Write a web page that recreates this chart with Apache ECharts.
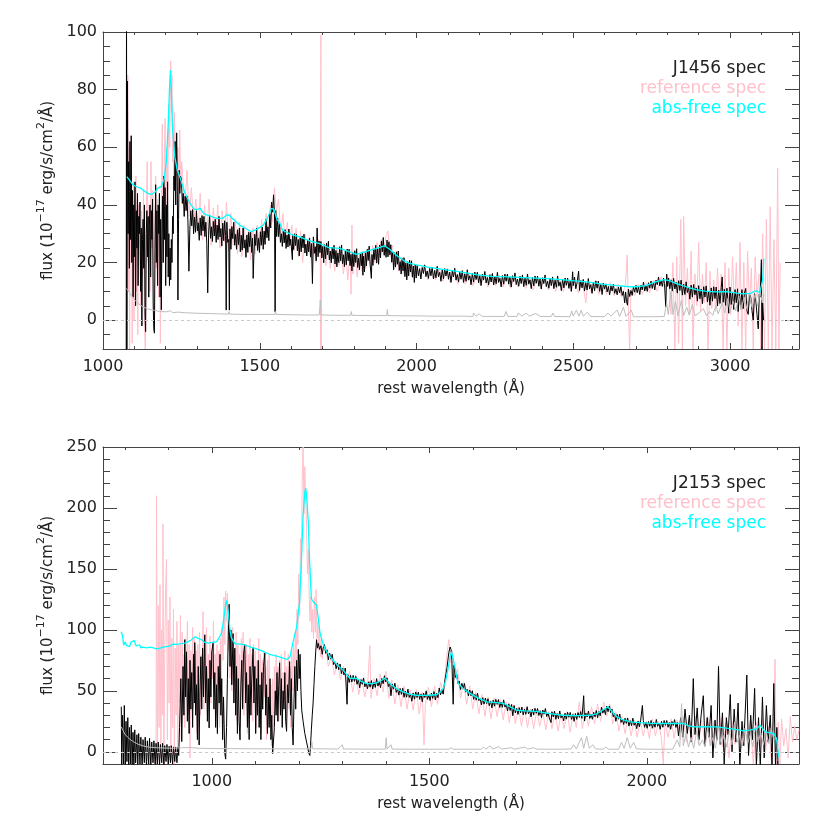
<!DOCTYPE html>
<html>
<head>
<meta charset="utf-8">
<script src="https://cdn.jsdelivr.net/npm/echarts@6/dist/echarts.min.js"></script>
<style>
  html, body { margin: 0; padding: 0; background: #fff; }
  #chart { width: 830px; height: 830px; }
</style>
</head>
<body>
<div id="chart"></div>
<script>
// ---- axis ticks ----
const topMajorX = [1000, 1500, 2000, 2500, 3000]
const topMinorX = [1100, 1200, 1300, 1400, 1600, 1700, 1800, 1900, 2100, 2200, 2300, 2400, 2600, 2700, 2800, 2900, 3100, 3200]
const topMajorY = [0, 20, 40, 60, 80, 100]
const topMinorY = [-5, 5, 10, 15, 25, 30, 35, 45, 50, 55, 65, 70, 75, 85, 90, 95]
const botMajorX = [1000, 1500, 2000]
const botMinorX = [800, 900, 1100, 1200, 1300, 1400, 1600, 1700, 1800, 1900, 2100, 2200, 2300]
const botMajorY = [0, 50, 100, 150, 200, 250]
const botMinorY = [10, 20, 30, 40, 60, 70, 80, 90, 110, 120, 130, 140, 160, 170, 180, 190, 210, 220, 230, 240]

// ---- J1456 (top) : [rest wavelength, flux] ----
const j1456Spec = [
  [1074,-15],[1075,108],[1076,-15],[1077,40],[1078,83],[1080,30],[1082,55],[1084,18],[1086,62],[1088,28],[1090,64],[1092,20],[1094,45],[1096,8],[1098,40],[1100,22],
  [1102,48],[1104,5],[1106,38],[1108,25],[1110,44],[1112,12],[1114,36],[1116,30],[1118,41],[1120,10],[1122,32],[1124,-2],[1126,28],[1128,35],[1130,18],[1132,40],
  [1134,2],[1136,-4],[1138,30],[1140,38],[1142,22],[1144,36],[1146,8],[1148,33],[1150,40],[1152,15],[1154,38],[1156,28],[1158,42],[1160,6],[1162,-3],[1164,-4.5],
  [1166,25],[1168,47],[1170,20],[1172,38],[1174,12],[1176,40],[1178,30],[1180,44],[1182,8],[1184,35],[1186,3.6],[1188,30],[1190,43],[1192,20],[1194,50],[1196,28],
  [1198,46],[1200,12],[1202,40],[1204,22],[1206,48],[1208,15],[1210,30],[1212,12],[1214,25],[1216,14],[1218,28],[1220,20],[1222,36],[1224,30],[1226,50],[1228,45],
  [1230,62],[1232,40],[1234,58],[1235,65],[1237,48],[1238,30],[1239,7],[1240,6.6],[1241,35],[1243,52],[1245,44],[1247,50],
  [1250,49],[1253,40.5],[1256,44],[1259,36],[1262,43],[1265,38],[1268,43],[1271,34],[1274,17],[1277,31.5],[1280,38],[1283,32.7],[1286,38.4],[1289,30],[1292,35.8],[1295,30.5],
  [1298,38],[1301,31],[1304,33.8],[1307,27.7],[1310,35.5],[1313,29.4],[1316,36.3],[1319,31],[1322,36],[1325,29],[1328,34],[1331,26.7],[1334,9.5],[1337,30.6],[1340,36.5],[1343,28.4],
  [1346,32.4],[1349,27.3],[1352,34.3],[1355,29.2],[1358,35],[1361,27],[1364,33],[1367,28],[1370,36],[1373,28.9],[1376,31.8],[1379,25.7],[1382,33.7],[1385,27.6],[1388,34.5],[1391,29.4],
  [1393,3.5],[1395,34],[1398,27],[1401,28],[1403,3.5],[1405,31.7],[1408,24.6],[1411,32.5],[1414,28.3],[1417,34],[1420,26],[1423,29.8],[1426,24.6],[1429,31.4],[1432,26.2],[1435,32],
  [1438,23.7],[1441,29.5],[1444,24.3],[1447,32],[1450,25],[1453,27.9],[1456,21.8],[1459,29.6],[1462,23.5],[1465,30.5],[1468,25.5],[1471,30.5],[1474,23.5],[1477,28.5],[1479,14.5],[1481,21.6],
  [1484,29.8],[1487,25.9],[1490,32],[1493,24.2],[1496,28.4],[1499,23.5],[1502,30.7],[1505,26],[1508,32.3],[1511,24.6],[1514,30.9],[1517,26.3],[1520,35],[1523,28.6],[1526,32.4],[1529,27.6],
  [1532,36.8],[1535,32],[1538,41],[1541,37.5],[1544,43.5],[1547,37],[1549,2.9],[1551,38],[1554,29],[1557,35.5],[1560,29],[1563,33.7],[1566,27],[1569,30],[1572,25.6],[1575,30.9],
  [1578,26.8],[1581,31.4],[1584,24.9],[1587,29.6],[1590,25.4],[1593,31.6],[1596,25.9],[1599,28.1],[1604,21],[1605,29.4],[1608,24.5],[1611,30],[1614,25.9],[1617,29.8],[1620,24.1],[1623,28],
  [1626,22.3],[1629,28.6],[1632,23.7],[1635,29.2],[1638,25.1],[1641,29.8],[1644,23.3],[1647,26.4],[1650,22.3],[1653,27.8],[1656,23.7],[1659,28.4],[1662,21.9],[1665,26.6],[1668,12.7],[1671,28.9],
  [1674,23.2],[1677,25.5],[1680,20.6],[1683,32],[1686,22],[1689,27.5],[1692,23.4],[1695,27.3],[1698,21.6],[1701,25.6],[1704,19.9],[1707,26.2],[1710,21.3],[1713,26.8],[1716,22.7],[1719,27.4],
  [1722,20.9],[1725,24],[1728,19.9],[1731,25.4],[1734,21.3],[1737,26],[1740,19.5],[1743,24.2],[1746,18.5],[1749,23.3],[1752,20],[1755,25.5],[1758,20.6],[1761,26.1],[1764,19.6],[1767,22.7],
  [1770,18.6],[1773,24.1],[1776,19.2],[1779,24.7],[1782,20.6],[1785,24.6],[1788,18.9],[1791,22.8],[1794,17.1],[1797,23.4],[1800,18.6],[1803,24.1],[1806,20],[1809,24.8],[1812,18.3],[1815,21.5],
  [1818,17.4],[1821,23],[1824,18.9],[1827,23.7],[1829,15.6],[1831,22.2],[1834,16.8],[1837,23.4],[1840,18.8],[1843,24.6],[1846,20.7],[1849,25.7],[1852,19.4],[1856,14.5],[1858,22.8],[1861,19],
  [1864,24.8],[1867,21],[1870,26],[1873,19.8],[1876,24.8],[1879,19.4],[1882,26.1],[1885,21.6],[1888,27.5],[1891,23.7],[1894,28.7],[1897,22.5],[1900,25.8],[1903,21.8],[1906,27.8],[1909,22],
  [1912,27.2],[1915,22.7],[1918,26.2],[1921,20.1],[1924,23.6],[1927,17.5],[1930,23.4],[1933,18.4],[1936,23.7],[1939,19.4],[1942,24],[1945,17.3],[1948,20.3],[1951,16],[1954,21.4],[1957,17.1],
  [1960,21.7],[1963,15.1],[1966,19.8],[1969,14],[1972,20.3],[1975,15.4],[1978,20.8],[1981,16.7],[1984,20.6],[1987,14.9],[1990,18.8],[1993,13.1],[1996,19.4],[1999,14.6],
  [2002,19],[2006,15.4],[2010,17.9],[2014,14.3],[2018,18.3],[2022,16.2],[2026,19.2],[2030,15.1],[2034,17.1],[2038,14.5],[2042,18],[2046,15.4],[2050,18.4],[2054,14.3],[2058,17.3],[2062,14.7],
  [2066,18.7],[2070,15.1],[2074,16.6],[2078,13.5],[2082,17.5],[2086,14.4],[2090,17.9],[2094,15.3],[2098,17.8],[2102,14.2],[2106,16.7],[2110,13.1],[2114,17.1],[2118,15],[2122,18],[2126,13.9],
  [2130,15.9],[2134,13.3],[2138,16.8],[2142,14.2],[2146,17.2],[2150,13.1],[2154,16.1],[2158,13.5],[2162,17.5],[2166,13.9],[2170,15.4],[2174,12.3],[2178,16.3],[2182,13.2],[2186,16.7],[2190,14.1],
  [2194,16.6],[2198,13],[2202,15.5],[2206,12],[2210,16],[2214,13.9],[2218,16.9],[2222,12.9],[2226,14.85],[2230,12.3],[2234,15.8],[2238,13.25],[2242,16.2],[2246,12.2],[2250,15.2],[2254,12.65],
  [2258,16.6],[2262,13.1],[2266,14.55],[2270,11.55],[2274,15.5],[2278,12.5],[2282,16],[2286,13.5],[2290,16],[2294,12.5],[2298,15],[2302,11.5],[2306,15.45],[2310,13.4],[2314,16.4],[2318,12.35],
  [2322,14.3],[2326,11.8],[2330,15.25],[2334,12.7],[2338,15.7],[2342,11.65],[2346,14.6],[2350,12.1],[2354,16],[2358,12.5],[2362,14],[2366,10.95],[2370,14.9],[2374,11.9],[2378,15.35],[2382,12.8],
  [2386,15.3],[2390,11.8],[2394,14.3],[2398,10.8],[2402,14.75],[2406,12.7],[2410,15.7],[2414,11.65],[2418,13.6],[2422,11.1],[2426,14.55],[2430,12],[2434,15],[2438,10.95],[2442,13.9],[2446,11.4],
  [2450,15.35],[2454,11.8],[2458,13.3],[2462,10.25],[2466,14.2],[2470,11.2],[2474,14.65],[2478,12.1],[2482,14.6],[2486,11.05],[2490,13.5],[2494,10],[2498,16.8],[2500,12],[2504,14.95],[2508,10.9],
  [2512,12.9],[2517,17],[2520,10.3],[2524,13.75],[2528,11.2],[2532,14.15],[2536,10.1],[2540,13.05],[2544,10.5],[2548,14.45],[2552,10.9],[2556,12.35],[2560,9.3],[2564,13.25],[2568,10.2],[2572,13.65],
  [2576,11.1],[2580,13.55],[2584,10],[2588,12.45],[2592,8.9],[2596,12.85],[2600,10.8],
  [2604,12.6],[2608,9.8],[2612,11.7],[2616,8.8],[2620,11.9],[2624,10.1],[2628,12.5],[2632,9.3],[2636,10.9],[2640,8.8],[2644,11.5],[2648,9.5],[2652,11.7],[2656,8.6],[2660,10],[2664,6],
  [2667,9.8],[2670,6.4],[2673,5.2],[2676,10.8],[2680,8.2],[2684,10.3],[2688,8.6],[2692,11.6],[2696,9.7],[2700,12.1],[2704,9.5],[2708,11.6],[2712,8.9],[2716,12.2],[2720,10.5],[2724,13.2],
  [2728,10.1],[2732,12],[2736,10],[2740,13],[2744,11.1],[2748,13.6],[2752,11],[2756,13.2],[2760,10.5],[2764,13.9],[2768,12.3],[2772,15],[2776,11.9],[2780,13.7],[2784,11.7],[2788,14.6],
  [2791,12.7],[2795,4.6],[2798,16],[2801,11.7],[2804,14.6],[2808,10.9],[2812,14],[2816,10.1],[2820,14.5],[2824,10.8],[2828,13.1],[2832,9.4],[2836,13.7],[2840,10.3],[2844,13.9],[2848,8.7],
  [2852,12.5],[2856,8.9],[2860,13.3],[2864,9.6],[2868,11.5],[2872,7.3],[2876,12.2],[2880,8],[2884,12.4],[2888,8.8],[2892,11.2],[2896,6.6],[2900,12],[2904,7.4],[2908,10.8],[2912,5.7],
  [2916,11.6],[2920,8],[2924,11.9],[2928,6.3],[2932,9.8],[2936,5.2],[2940,11.2],[2944,6.6],[2948,11.6],[2952,7.5],[2956,11.5],[2960,4.9],[2964,10.4],[2968,5.8],[2972,11.3],[2975,15],
  [2978,6.2],[2982,10.7],[2986,5.1],[2990,11.1],[2994,6],[2996,2.4],[3000,11.5],[3004,5.4],[3008,9.8],[3012,3.7],[3016,10.6],[3020,6],[3024,10.9],[3026,3],[3030,9.3],[3034,4.2],
  [3038,10.6],[3042,4],[3046,9.5],[3050,11],[3054,3.3],[3058,2],[3062,9.1],[3066,8],[3070,3.4],[3074,0],[3078,9.2],[3082,7],[3086,2],[3090,-3],[3093,9],[3096,8],
  [3100,21],[3102,-12],[3104,6],[3107,0]
]
const j1456Ref = [
  [1077,-12],[1079,85],[1081,10],[1083,60],[1085,-10],[1087,50],[1089,20],[1091,56],[1093,-8],[1095,35],[1097,48],[1099,0],[1101,42],[1103,20],[1105,50],[1107,10],
  [1109,38],[1111,-5],[1113,40],[1115,25],[1117,28],[1120,5],[1123,38],[1126,15],[1129,45],[1132,-2],[1135,-10],[1138,35],[1141,55],[1144,20],[1147,40],[1150,10],
  [1153,55],[1156,25],[1159,45],[1162,0],[1165,30],[1168,50],[1171,18],[1174,42],[1177,8],[1180,40],[1183,-8],[1186,35],[1189,68],[1192,20],[1195,52],[1198,70],
  [1201,35],[1204,60],[1207,45],[1210,75],[1213,60],[1216,90],[1218,72],[1220,85],[1222,55],[1224,68],[1226,50],[1228,72],[1230,55],[1233,65],[1236,50],[1239,60],
  [1242,45],[1245,66],[1248,46],[1251,55],[1254,50],[1261,40],[1268,52],[1275,36],[1282,46],[1289,33],[1296,42],[1303,30],[1310,44],[1317,28],[1324,40],[1331,30],
  [1338,42],[1345,26],[1352,39],[1359,28],[1366,40],[1373,25],[1380,38],[1387,27],[1394,41],[1401,24],[1408,37],[1415,26],[1422,35],[1429,23],[1436,34],[1443,22],
  [1450,33],[1457,24],[1464,31],[1471,21],[1478,32],[1485,23],[1492,33],[1499,25],[1506,35],[1513,26],[1520,37],[1527,30],[1534,40],[1541,34],[1547,46],[1553,38],
  [1560,42],[1567,30],[1574,37],[1581,27],[1588,34],[1595,25],[1602,33],[1609,24],[1616,32],[1623,22],[1630,31],[1637,20],[1644,30],[1651,23],[1658,29],[1665,21],
  [1672,28],[1679,20],[1686,28],[1693,22],[1694,-10],[1695,99],[1696,-10],[1697,22],[1704,27],[1711,19],[1718,26],[1725,18],[1732,25],[1739,17],[1746,25],[1753,19],
  [1760,24],[1767,16],[1774,23],[1781,14],[1788,24],[1791,9],[1794,33],[1797,16],[1804,22],[1811,15],[1818,23],[1825,17],[1832,24],[1839,18],[1846,25],[1853,19],
  [1860,26],[1867,20],[1874,27],[1881,22],[1888,28],[1895,23],[1902,29],[1909,31],[1916,22],[1923,26],[1930,19],[1937,24],[1944,17],[1951,22],[1958,16],[1965,21],
  [1972,15],[1979,20],[1986,15],[1993,19],[2000,18],[2012,15],[2024,19],[2036,14],[2048,18],[2060,14],[2072,18],[2084,13.5],[2096,17.5],[2108,13],[2120,17],[2132,12.5],
  [2144,16.5],[2156,12.5],[2168,16.5],[2180,12],[2192,16],[2204,12],[2216,16],[2228,11.5],[2240,16],[2252,12],[2264,15.5],[2276,11.5],[2288,15.5],[2300,11],[2312,15],[2324,11.5],
  [2336,15],[2348,11],[2360,14.5],[2372,10.5],[2384,14.5],[2396,11],[2408,14.5],[2420,10.5],[2432,14],[2444,10],[2456,14],[2468,10],[2480,14],[2492,10],[2504,14],[2516,9.5],
  [2528,14],[2540,6],[2546,13],[2558,9.5],[2570,13.5],[2582,9],[2594,13],[2606,9],[2618,13],[2630,8.5],[2642,12.5],[2654,8],[2666,12],[2672,22.6],[2676,3],[2680,-10],
  [2684,11],[2696,8.5],[2708,12.5],[2720,9],[2732,13],[2744,9.5],[2756,14],[2768,10],[2780,15],[2792,11],[2804,15],[2812,2],[2818,20],[2824,-10],[2830,22],[2836,-8],
  [2843,35],[2848,-10],[2852,36],[2858,5],[2864,18],[2870,2],[2876,24],[2882,-10],[2888,16],[2894,5],[2900,27],[2906,3],[2912,16],[2918,6],[2924,20],[2930,-10],
  [2936,17],[2942,4],[2948,14],[2954,3],[2960,18],[2966,5],[2972,16],[2978,-10],[2984,20],[2990,-10],[2996,18],[3002,2],[3008,22],[3014,4],[3020,20],[3026,-2],
  [3032,27],[3038,-10],[3044,20],[3050,-10],[3056,24],[3062,5],[3068,18],[3074,-10],[3080,22],[3086,8],[3092,16],[3098,-10],[3104,30],[3110,-10],[3116,35],[3122,-10],
  [3128,39.4],[3134,-10],[3140,28],[3146,-10],[3152,52.7],[3156,-10],[3160,20]
]
const j1456Free = [
  [1076,49.8],[1085,48.5],[1095,47],[1107,46.3],[1120,45.8],[1135,44.6],[1147,43.8],[1155,43.7],[1165,44.3],[1175,45.8],[1187,46.5],[1195,49],[1202,55],[1208,68],[1212,80],[1215,86.8],
  [1218,80],[1222,66],[1229,56.7],[1237,52],[1245,49.8],[1260,44.5],[1277,40.6],[1290,38.6],[1298,38.4],[1310,38.8],[1320,37.2],[1330,36.5],[1345,36],[1362,35.3],[1380,35.3],[1395,36.5],
  [1402,36.5],[1415,35],[1436,33],[1455,31.8],[1473,30.7],[1490,31.5],[1511,33],[1525,35.5],[1537,38.8],[1545,38.5],[1555,35],[1564,33.6],[1573,31.2],[1600,29.8],[1627,28.9],[1660,27.5],
  [1691,26.6],[1720,25.2],[1755,24.9],[1780,24],[1808,22.8],[1840,23.9],[1870,24.8],[1898,25.8],[1915,24.5],[1935,22.6],[1960,20.6],[1978,19.7],[2004,19.1],[2040,18.3],[2084,17.6],[2130,16.9],
  [2190,15.8],[2240,15.2],[2296,15],[2340,14.8],[2381,14.6],[2420,14.4],[2460,14.1],[2498,13.7],[2550,13.2],[2593,12.5],[2640,12],[2680,11.6],[2700,11.6],[2731,12],[2760,13.2],[2790,14.1],
  [2810,13.6],[2827,12.8],[2860,11.6],[2891,10.6],[2920,10.1],[2954,9.8],[2990,9.9],[3039,9.1],[3065,9.3],[3082,10.2],[3095,9.6],[3101,9.4],[3104,14],[3108,21.4]
]
const j1456Err = [
  [1075,11],[1085,9.5],[1097,7.5],[1110,6],[1128,4.6],[1145,3.8],[1165,3.4],[1180,3],[1203,2.9],[1215,3.3],[1222,2.6],[1240,2.8],[1260,2.6],[1300,2.4],[1340,2.3],[1400,2.1],
  [1402,3],[1404,2.1],[1450,2],[1500,2],[1548,2],[1550,3],[1552,2],[1600,1.9],[1650,1.8],[1690,1.8],[1693,7],[1696,1.8],[1750,1.7],[1790,1.7],[1792,3],[1794,1.7],
  [1850,1.6],[1905,1.6],[1907,3.7],[1909,1.6],[1960,1.5],[2000,1.5],[2050,1.4],[2100,1.4],[2150,1.4],[2180,1.3],[2182,2.5],[2190,1.4],[2200,2.2],[2210,1.3],[2280,1.3],[2285,3],
  [2292,1.3],[2320,1.3],[2325,2.5],[2335,1.4],[2350,2.4],[2360,1.4],[2380,2.3],[2395,1.3],[2430,1.3],[2435,2.5],[2440,1.3],[2490,1.2],[2495,3.2],[2500,1.4],[2510,3.5],[2518,1.4],
  [2525,3.4],[2532,1.4],[2545,2.8],[2555,1.3],[2600,1.2],[2610,2.5],[2620,1.4],[2640,3.5],[2648,1.3],[2660,4.5],[2668,1.3],[2685,3.5],[2692,1.2],[2700,1.2],[2760,1.2],[2790,1.3],
  [2798,6],[2803,2],[2812,10],[2818,2],[2826,6.5],[2834,1.5],[2845,7],[2852,1.6],[2862,4.5],[2870,1.7],[2880,5.5],[2888,1.6],[2900,2.4],[2915,4],[2925,1.5],[2935,3],
  [2945,1.7],[2955,5.3],[2962,2.2],[2975,6],[2983,2.5],[2993,7.5],[3000,3],[3010,6.5],[3018,3.2],[3028,8.5],[3035,3.5],[3045,8],[3052,4],[3062,9.5],[3070,4.5],[3080,9],
  [3088,5],[3096,10],[3103,6],[3108,9]
]

// ---- J2153 (bottom) : [rest wavelength, flux] ----
const j2153Spec = [
  [792,37],[793,-12],[795,30],[797,-10],[799,38],[801,-12],[803,25],[805,-8],[807,28],[809,-12],[811,20],[813,-10],[815,22],[817,-11],[819,16],[821,-12],
  [823,18],[825,-9],[828,14],[830,-12],[832,15],[835,-10],[837,12],[840,-12],[842,10],[845,-9],[847,12],[850,-12],[852,9],[855,-10],[857,11],[860,-12],
  [862,8],[865,-9],[867,9],[870,-12],[872,7],[875,-10],[877,8],[880,-11],[882,6],[885,-9],[887,7],[890,-12],[892,5],[895,-8],[897,6],[900,-10],
  [902,4.5],[905,-9],[907,5],[910,-10],[912,4],[915,-8],[917,4],[920,-9],[922,4],[924,-3],[926,20],[929,60],[931,8.4],[934,70],[936,30],[938,92],
  [940,45],[942,82],[944,25],[946,60],[948,15],[950,75],[952,35],[954,65],[956,20],[958,80],[960,40],[961,89.6],[963,30],[965,55],[967,10],[969,70],
  [971,5.6],[973,50],[975,78],[977,35],[979,85],[981,45],[984,96],[986,40],[988,70],[990,25],[992,60],[994,19.6],[996,75],[998,45],[1000,82],[1003,89],
  [1005,35],[1007,65],[1009,20],[1011,55],[1013,15],[1015,70],[1017,40],[1019,80],[1021,30],[1023,60],[1025,10],[1027,45],[1030,-1.4],[1032,-6],[1034,20],[1036,60],
  [1038,95],[1040,121],[1042,70],[1044,100],[1046,55],[1049,97],[1051,40],[1053,85],[1055,30],[1057,70],[1059,15],[1061,60],[1063,25],[1065,9.8],[1067,55],[1069,75],
  [1071,35],[1073,80],[1076,88],[1078,40],[1080,65],[1082,20],[1084,55],[1086,10],[1088,70],[1090,30],[1092,60],[1095,85],[1097,40],[1099,70],[1101,15],[1103,60],
  [1105,30],[1107,75],[1109,20],[1111,55],[1113,10],[1115,65],[1117,35],[1119,70],[1122,81],[1124,30],[1126,55],[1128,15],[1130,45],[1132,20],[1134,60],[1136,10],
  [1138,30],[1140,-1.4],[1142,-2],[1144,20],[1146,50],[1148,30],[1150,65],[1152,25],[1154,55],[1156,73],[1158,30],[1160,60],[1162,20],[1164,50],[1166,35],[1168,65],
  [1170,25],[1172,16.8],[1174,55],[1176,40],[1179,74],[1181,30],[1183,60],[1185,20],[1187,5.6],[1189,40],[1191,70],[1193,35],[1195,75],[1197,50],[1199,84],[1201,60],
  [1203,80],[1205,50],[1207,33.6],[1210,25],[1214,15],[1218,8],[1221,3],[1223,-1],[1225.5,-3],[1227,5],[1229,18],[1231,30],[1233,40],[1235,55],[1237,70],[1239,82],
  [1241,92],[1243,85],[1245,89],[1248,84],[1251,87],[1254,80],[1256,85],
  [1259,88],[1262,80.7],[1265,83.7],[1268,75.5],[1271,81],[1274,76],[1277,80],[1280,71.5],[1283,73.8],[1286,68.1],[1289,72.9],[1292,67.4],[1295,72],[1298,64.1],[1301,68.6],[1304,63],
  [1307,68.7],[1311,39],[1313,63.3],[1316,56.9],[1319,62.8],[1322,57.2],[1325,62.7],[1328,57.8],[1331,61.9],[1334,55.4],[1337,59.5],[1340,52.5],[1343,59.2],[1346,55.4],[1349,60.6],[1352,53.3],
  [1355,56.5],[1358,51.7],[1361,57.5],[1364,53],[1367,58.5],[1370,51.5],[1373,57.1],[1376,52.8],[1379,60],[1382,53.9],[1385,57.5],[1388,52.6],[1391,60.2],[1394,55.8],[1397,62.4],[1400,57.3],
  [1403,60.7],[1406,53.5],[1409,56.5],[1412,46],[1415,55.5],[1418,51.4],[1421,56.3],[1424,48.7],[1427,51.6],[1430,46.5],[1433,52],[1436,47.1],[1439,52.1],[1442,44.7],[1445,49.7],[1448,44.8],
  [1451,51.4],[1454,44.6],[1457,47.3],[1460,41.5],[1463,48.3],[1466,43.2],[1469,49],[1472,44.5],[1475,49],[1478,43],[1481,47.5],[1484,41],[1487,48],[1490,44.5],[1493,50],[1496,43],
  [1499,46.5],[1502,42.1],[1505,48.2],[1508,43.8],[1511,49.4],[1514,42.5],[1517,48],[1520,44.4],[1523,52.3],[1526,46.7],[1529,51],[1532,47.3],[1535,56.5],[1538,57.5],[1541,69.5],[1543,71],
  [1545,81.5],[1547,80],[1548,86],[1550,84],[1552,75],[1554,76],[1555,39],[1557,71],[1560,61],[1563,63.7],[1566,56.1],[1569,58.1],[1572,51],[1575,56.2],[1578,52],[1581,56],
  [1584,48.9],[1587,51.3],[1590,45.8],[1593,50.7],[1596,46],[1599,50.1],[1602,43],[1605,47.1],[1608,42.4],[1611,48.1],[1614,41.9],[1617,43.8],[1620,38.5],[1623,44.4],[1626,39.1],[1629,44.1],
  [1632,39.6],[1635,43.5],[1638,37.8],[1641,41.7],[1644,36],[1647,42.3],[1650,37.4],[1653,43],[1656,38.9],[1659,42.8],[1662,36.3],[1665,40.8],[1668,36.5],[1671,42.6],[1674,36.7],[1677,38.8],
  [1680,33.5],[1683,39.4],[1686,33.9],[1689,38.8],[1692,29.6],[1695,38],[1698,31.9],[1701,35.6],[1704,30.7],[1707,36.2],[1710,32],[1713,36.7],[1716,30.2],[1719,34.9],[1722,30.8],[1725,37],
  [1728,31.3],[1731,33.6],[1734,28.7],[1737,35],[1740,30.1],[1743,35.7],[1746,31.6],[1749,35.5],[1752,29.8],[1755,33.7],[1758,28],[1761,34.3],[1764,30.9],[1767,35.5],[1770,28.9],[1773,31.9],
  [1776,27.7],[1780,24],[1782,32.9],[1785,28.7],[1788,33.3],[1791,26.7],[1794,31.4],[1797,27.2],[1800,33.5],[1803,27.8],[1806,30.2],[1809,25.3],[1812,31.7],[1815,26.8],[1818,32.4],[1821,28.3],
  [1824,32.3],[1827,26.6],[1830,30.6],[1833,25],[1836,31.4],[1839,26.6],[1842,32.2],[1845,28.2],[1848,33],[1851,27.4],[1855,46],[1857,25.2],[1860,31.7],[1863,28.6],[1866,33.5],[1869,27.3],
  [1872,30.6],[1875,26.7],[1878,32.4],[1881,28.7],[1884,33.9],[1887,27.9],[1890,33.1],[1893,29.6],[1896,36.6],[1899,31.7],[1902,34.8],[1905,30.6],[1908,37.6],[1911,32.9],[1914,37.6],[1917,32.2],
  [1920,35.2],[1923,28.6],[1926,31.6],[1929,25],[1932,30.7],[1935,26.7],[1938,31],[1941,24.1],[1944,26.8],[1947,22.4],[1950,27.6],[1953,23.3],[1956,27.8],[1959,21.1],[1962,25.6],[1965,21.4],
  [1968,27.6],[1971,21.8],[1974,24],[1977,19],[1980,25.3],[1983,20.4],[1986,25.9],[1990,38],[1992,25.8],[1995,20.1],[1998,24.1],[2001,19.3],[2004,24.9],[2007,20.9],[2010,25.7],[2013,19.3],
  [2016,24.1],[2019,20.1],[2022,26.5],[2025,20.9],[2028,23.3],[2031,18.5],[2034,24.9],[2037,20.1],[2040,25.7],[2043,21.7],[2046,25.7],[2049,20.1],[2052,24.1],[2055,18.5],[2058,24.9],[2061,21.6],
  [2064,26.4],[2067,20],[2070,24],
  [2073,13],[2078,28],[2083,12],[2088,35],[2093,15],[2098,30],[2102,8],[2107,60],[2111,14],[2116,36],[2120,10],[2125,30],[2130,46],
  [2134,5],[2139,28],[2143,12],[2148,38],[2152,-5],[2157,26],[2161,10],[2165,70],[2169,6],[2174,32],[2178,-10],[2183,28],[2187,14],[2192,47],[2196,0],[2201,35],
  [2205,8],[2210,40],[2214,-12],[2219,25],[2223,5],[2230,63],[2234,-3],[2239,30],[2243,10],[2248,52],[2252,-12],[2257,28],[2261,-12],[2266,45],[2270,-5],[2275,38],
  [2279,8],[2284,30],[2288,-12],[2292,56],[2296,-12],[2299,20],[2302,-12]
]
const j2153Ref = [
  [872,-10],[873,210],[875,-10],[877,120],[879,20],[881,137],[883,-5],[885,100],[887,30],[888,187],[890,-10],[892,80],[894,134],[896,158],[898,10],[900,108],
  [902,40],[904,127],[906,-8],[908,93],[910,20],[912,117],[914,-10],[916,85],[918,30],[920,107],[922,5],[924,88],[926,40],[928,112],[930,10],[932,98],
  [934,50],[936,80],[938,20],[940,93],[942,60],[944,107],[946,30],[948,88],[950,-5],[952,83],[954,50],[956,102],[958,35],[960,93],[962,55],[964,83],
  [966,15],[968,88],[970,45],[972,98],[974,30],[976,80],[978,60],[980,115],[982,35],[984,90],[986,50],[988,102],[990,30],[992,80],[994,55],[996,95],
  [998,40],[1000,83],[1002,60],[1004,107],[1006,45],[1008,80],[1010,30],[1012,88],[1014,50],[1016,83],[1018,20],[1020,93],[1022,60],[1024,102],[1026,75],[1028,127],
  [1030,88],[1032,132],[1034,107],[1036,130],[1038,83],[1040,112],[1042,60],[1044,93],[1046,50],[1048,102],[1050,40],[1052,83],[1054,55],[1056,98],[1058,25],[1060,88],
  [1062,45],[1064,80],[1066,20],[1068,93],[1070,55],[1072,98],[1074,30],[1076,83],[1078,50],[1080,88],[1082,15],[1084,80],[1086,40],[1088,93],[1090,55],[1092,80],
  [1094,25],[1096,88],[1098,50],[1100,83],[1102,20],[1104,75],[1106,40],[1108,93],[1110,55],[1112,80],[1114,15],[1116,75],[1118,35],[1120,83],[1122,45],[1124,70],
  [1126,10],[1128,75],[1130,40],[1132,80],[1134,25],[1136,55],[1138,5],[1140,60],[1142,20],[1144,70],[1146,35],[1148,80],[1150,45],[1152,70],[1154,25],[1156,75],
  [1158,50],[1160,80],[1162,30],[1164,65],[1166,40],[1168,83],[1170,30],[1172,70],[1174,45],[1176,80],[1178,35],[1180,70],[1182,20],[1184,83],[1186,50],[1188,88],
  [1190,60],[1192,98],[1194,70],[1196,117],[1198,88],[1200,146],[1202,112],[1204,175],[1206,146],[1208,224],[1210,250],[1212,195],[1214,234],[1216,205],[1218,185],[1220,146],
  [1222,166],[1224,127],[1226,107],[1228,127],[1230,98],[1232,117],[1234,93],[1236,127],[1238,98],[1240,133],[1242,93],[1244,107],[1246,83],[1248,98],[1250,78],[1252,93],
  [1254,76],[1256,86],[1262,86],[1268,70],[1275,78],[1282,63],[1289,73],[1296,59],[1303,70],[1310,54],[1317,66],[1324,49],[1331,63],[1338,47],[1345,60],[1352,45],
  [1359,59],[1363.5,87],[1366,44],[1373,60],[1380,46],[1387,64],[1394,49],[1400,66],[1407,44],[1414,59],[1421,39],[1428,55],[1435,37],[1442,54],[1449,35],[1456,51],
  [1463,34],[1470,51],[1477,31],[1484,49],[1488,5.6],[1491,39],[1498,53],[1505,37],[1512,54],[1519,39],[1526,57],[1533,47],[1540,78],[1545,92],[1549,73],[1553,83],
  [1558,59],[1565,68],[1572,44],[1579,57],[1586,39],[1593,54],[1600,35],[1607,49],[1614,31],[1621,47],[1628,29],[1635,45],[1642,27],[1649,44],[1656,29],[1663,43],
  [1670,26],[1677,41],[1684,24],[1691,39],[1698,23],[1705,37],[1712,21],[1719,36],[1726,20],[1733,35],[1740,19],[1747,34],[1754,21],[1761,33],[1768,18],[1775,33],
  [1782,19],[1789,32],[1796,17],[1803,31],[1810,19],[1817,33],[1824,16],[1831,32],[1838,20],[1845,41],[1852,19],[1859,34],[1866,21],[1873,37],[1880,23],[1887,39],
  [1894,25],[1901,41],[1908,29],[1915,39],[1922,23],[1929,33],[1936,17],[1943,29],[1950,15],[1957,27],[1964,13],[1971,26],[1978,12],[1985,26],[1992,13],[1999,25],
  [2006,11],[2013,27],[2020,13],[2027,25],[2034,10],[2038,-10],[2042,24],[2049,12],[2056,27],[2063,11],[2070,26],[2077,10],[2084,29],[2091,8],[2098,27],[2105,10],
  [2112,29],[2119,6],[2126,26],[2133,9],[2140,29],[2147,5],[2154,25],[2161,8],[2168,28],[2175,4],[2182,24],[2189,-5],[2196,25],[2203,6],[2210,27],[2217,3],
  [2224,23],[2231,8],[2238,26],[2245,-10],[2252,24],[2259,4],[2266,27],[2273,0],[2280,21],[2287,-10],[2292,29],[2295,76],[2298,-10],[2302,24],[2306,-10],[2310,27],
  [2315,5],[2320,19],[2325,-5],[2330,29],[2335,8],[2340,21],[2345,10],[2350,18]
]
const j2153Free = [
  [792,98.5],[795,95],[797.5,87.5],[801,90],[804,87.3],[808,88.7],[811,86.3],[815,90.2],[819,89.7],[822,91.2],[826,86.8],[830,86.3],[834,87.8],[837,85.3],[842,85.8],[850,85.3],
  [858,85.8],[866,85.3],[873,84.5],[880,84.8],[888,85.8],[896,86.3],[904,86.8],[911,88.3],[918,88.1],[922,87.3],[930,88.7],[938,89.2],[945,90.2],[953,91.7],[961,94.5],[968,93.1],
  [976,92.2],[984,89.7],[992,89.2],[1000,89.7],[1011,90.1],[1017,93.6],[1022,96.9],[1027,107],[1031,119],[1034,124.3],[1038,115],[1042,99.5],[1045,93.6],[1053,88.7],[1072,88.1],[1090,85.8],
  [1110,83.6],[1133,80],[1156,77.8],[1172,75.7],[1180,78],[1187,90.1],[1195,102],[1202,123],[1206,156],[1210,194],[1214,213],[1216,216.3],[1218,210],[1222,188],[1225,156],[1229,125.7],
  [1233,123.3],[1237,122.8],[1241,120],[1245,109],[1248.5,98.3],[1254,90.7],[1260,84.8],[1270,79],[1279,75],[1290,70.7],[1302,67],[1310,63.4],[1317.5,60.2],[1325,60.5],[1333,60.2],[1345,57.5],
  [1356,56],[1368,56],[1379,56.5],[1390,58.5],[1398,60.6],[1408,56.5],[1417,53.8],[1428,51.2],[1440,49.1],[1455,47.3],[1471,46.4],[1490,46.3],[1505,46.6],[1517,46.8],[1525,48.8],[1532,52],
  [1538,58.5],[1544,69.6],[1548,78],[1551.5,82],[1555,76],[1559,69.6],[1563,61.4],[1567,56],[1580,51.2],[1594,47.9],[1610,44.4],[1632,41],[1650,40.5],[1670,39.8],[1685,37],[1701,34.1],
  [1720,33.6],[1747,33.1],[1770,31.7],[1790,30.7],[1808,30],[1840,29.7],[1870,30],[1885,31.2],[1893,32.8],[1903,35.1],[1910,36.9],[1918,34.1],[1931,28.7],[1945,26.3],[1962,24.6],[1985,23.9],
  [2010,23.4],[2038,23.2],[2060,23.2],[2084,23.2],[2095,21.5],[2107,20.5],[2130,20.7],[2161,20.5],[2192,19.1],[2210,18],[2222,17.2],[2240,18],[2253,19.1],[2261,21.8],[2266,19.5],[2272,16.4],
  [2285,15.6],[2292,15],[2297,11.7],[2299,9.6],[2303,-4.1]
]
const j2153Err = [
  [792,20.5],[796,17.5],[800,14.6],[806,12.2],[812,10.2],[820,8.3],[830,6.3],[840,5.1],[850,4.2],[860,3.7],[875,3.3],[890,3.1],[910,2.9],[930,3.3],[950,3.5],[970,2.9],
  [1000,2.7],[1040,2.6],[1100,2.5],[1150,2.4],[1200,2.4],[1228,2.5],[1230,8.2],[1232,2.5],[1290,2.3],[1300,5.8],[1303,2.3],[1360,2.2],[1399,2.2],[1401,11.5],[1403,2.2],[1412,5.8],
  [1415,2.2],[1500,2.1],[1545,2.1],[1550,3.4],[1555,2.1],[1620,2.1],[1625,3.9],[1630,2.1],[1640,4.9],[1646,2.2],[1660,4.4],[1666,2.2],[1690,3.4],[1695,2.1],[1720,3.9],[1726,2.2],
  [1740,3.4],[1746,2.2],[1800,2.1],[1826,2.4],[1832,5.8],[1838,2.4],[1850,11.7],[1855,2.9],[1862,12.7],[1868,2.9],[1876,5.8],[1882,2.4],[1900,2.1],[1906,3.9],[1912,2.1],[1935,2.1],
  [1942,7.8],[1948,2.9],[1955,11.7],[1962,2.9],[1970,7.8],[1976,2.4],[2000,2.1],[2030,2.1],[2060,2.2],[2070,9.8],[2076,3.9],[2080,39.5],[2084,4.9],[2090,14.6],[2096,3.9],[2102,11.7],
  [2108,2.9],[2115,17.5],[2121,4.9],[2128,9.8],[2134,3.9],[2140,19.5],[2146,4.9],[2152,11.7],[2158,2.9],[2165,21.5],[2171,5.8],[2178,13.7],[2184,3.9],[2190,17.5],[2196,5.8],[2202,24.4],
  [2208,7.8],[2214,13.7],[2220,4.9],[2226,19.5],[2232,6.8],[2238,14.6],[2244,3.9],[2250,21.5],[2256,7.8],[2262,15.6],[2268,5.8],[2274,17.5],[2280,6.8],[2286,19.5],[2292,9.8],[2298,11.7],
  [2302,4.9]
]

// ---- styling ----
const FONT = 'DejaVu Sans'
const frame = '#444'
const ink = '#222'
const pink = '#FFC0CB'
const cyan = '#00FFFF'
const grey = '#BEBEBE'
const yTitle = '{n|flux (10}{s|−17}{n| erg/s/cm}{s|2}{n|/Å)}'
const xTitle = 'rest wavelength (Å)'

// IDL-style box: ticks inward on all four sides, labels only bottom/left
function boxAxes (gridIndex, dim, min, max, major, minor) {
  const isX = dim === 'x'
  const sides = isX ? ['bottom', 'top'] : ['left', 'right']
  const longTick = isX ? 6 : 14
  const shortTick = isX ? 3 : 7
  const axes = []
  sides.forEach((side, i) => {
    axes.push({
      type: 'value',
      gridIndex: gridIndex,
      position: side,
      min: min,
      max: max,
      splitLine: { show: false },
      axisLine: { show: true, onZero: false, lineStyle: { color: frame, width: 1 } },
      axisTick: { show: true, inside: true, length: longTick, customValues: major, lineStyle: { color: frame, width: 1 } },
      axisLabel: i === 0
        ? { show: true, customValues: major, color: ink, fontSize: 16, fontFamily: FONT, margin: isX ? 10 : 6, formatter: v => String(v) }
        : { show: false },
      name: i === 0 ? (isX ? xTitle : yTitle) : '',
      nameLocation: 'middle',
      nameGap: isX ? 33 : 46,
      nameRotate: isX ? 0 : 90,
      nameTextStyle: {
        color: ink,
        fontSize: 15,
        fontFamily: FONT,
        rich: {
          n: { color: ink, fontSize: 15, fontFamily: FONT, lineHeight: 20, verticalAlign: 'bottom' },
          s: { color: ink, fontSize: 11, fontFamily: FONT, lineHeight: 11, verticalAlign: 'top' }
        }
      }
    })
    axes.push({
      type: 'value',
      gridIndex: gridIndex,
      position: side,
      min: min,
      max: max,
      splitLine: { show: false },
      axisLine: { show: false, onZero: false },
      axisTick: { show: true, inside: true, length: shortTick, customValues: minor, lineStyle: { color: frame, width: 1 } },
      axisLabel: { show: false }
    })
  })
  return axes
}

function spec (name, data, color, width, axisIndex, extra) {
  return Object.assign({
    type: 'line',
    name: name,
    data: data,
    xAxisIndex: axisIndex,
    yAxisIndex: axisIndex,
    symbol: 'none',
    showSymbol: false,
    silent: true,
    animation: false,
    clip: true,
    lineStyle: { color: color, width: width },
    itemStyle: { color: color }
  }, extra || {})
}

function zeroLine () {
  return {
    silent: true,
    symbol: 'none',
    label: { show: false },
    lineStyle: { color: '#c8c8c8', type: [3, 3], width: 1 },
    data: [{ yAxis: 0 }]
  }
}

function legendFor (title, top) {
  return {
    orient: 'vertical',
    right: 54,
    top: top,
    align: 'right',
    icon: 'none',
    itemWidth: 0,
    itemHeight: 20,
    itemGap: 0,
    selectedMode: false,
    textStyle: { fontSize: 17, fontFamily: FONT, lineHeight: 20 },
    data: [
      { name: title, textStyle: { color: ink } },
      { name: 'reference spec', textStyle: { color: pink } },
      { name: 'abs-free spec', textStyle: { color: cyan } }
    ]
  }
}

let myChart = echarts.init(document.getElementById('chart'), null, { renderer: 'canvas' })
myChart.setOption({
  animation: false,
  backgroundColor: '#fff',
  textStyle: { fontFamily: FONT },
  grid: [
    { left: 103, top: 32, width: 696, height: 317 },
    { left: 103, top: 447, width: 696, height: 317 }
  ],
  xAxis: [].concat(
    boxAxes(0, 'x', 1000, 3220, topMajorX, topMinorX),
    boxAxes(1, 'x', 750, 2350, botMajorX, botMinorX)
  ),
  yAxis: [].concat(
    boxAxes(0, 'y', -10, 100, topMajorY, topMinorY),
    boxAxes(1, 'y', -10, 250, botMajorY, botMinorY)
  ),
  legend: [legendFor('J1456 spec', 54), legendFor('J2153 spec', 469)],
  series: [
    spec('reference spec', j1456Ref, pink, 1, 0),
    spec('J1456 spec', j1456Spec, '#000', 1, 0),
    spec('error', j1456Err, grey, 1, 0, { markLine: zeroLine() }),
    spec('abs-free spec', j1456Free, cyan, 1.3, 0),
    spec('reference spec', j2153Ref, pink, 1, 4),
    spec('J2153 spec', j2153Spec, '#000', 1, 4),
    spec('error', j2153Err, grey, 1, 4, { markLine: zeroLine() }),
    spec('abs-free spec', j2153Free, cyan, 1.3, 4)
  ]
})
</script>
</body>
</html>
